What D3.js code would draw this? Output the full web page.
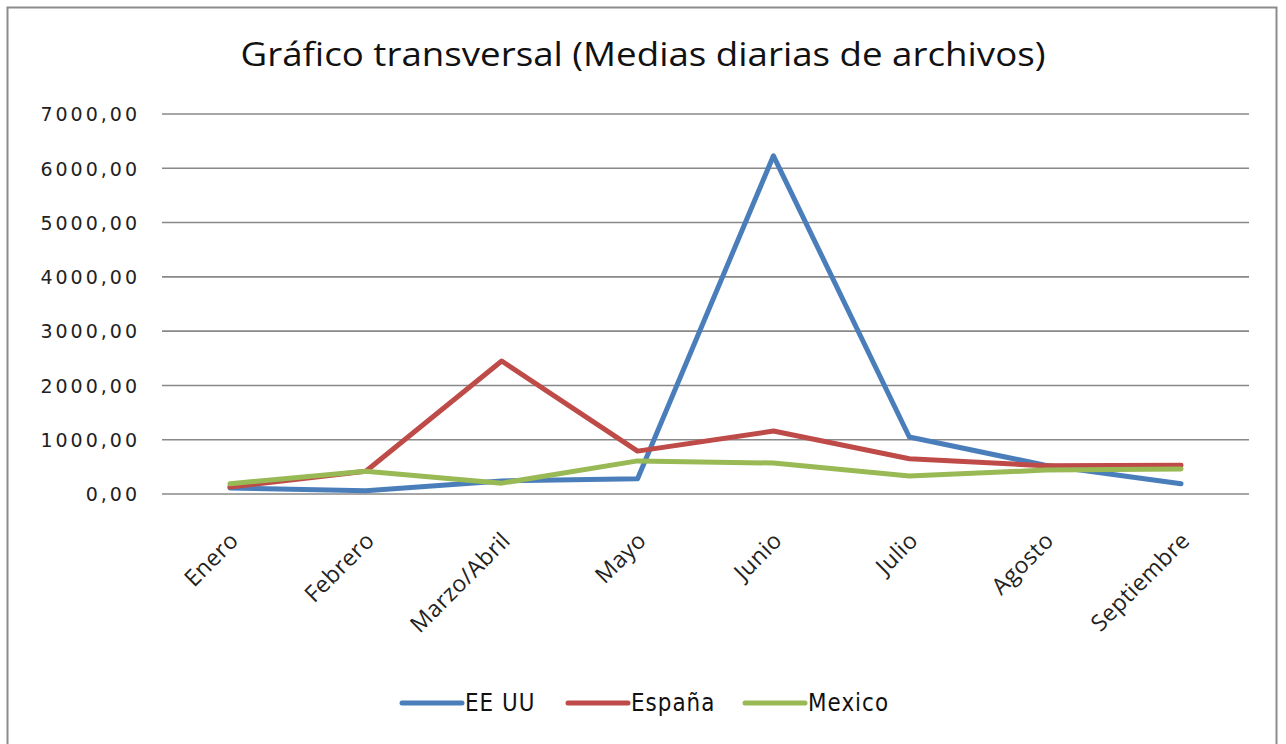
<!DOCTYPE html>
<html><head><meta charset="utf-8">
<script src="https://cdn.jsdelivr.net/npm/d3@7"></script>
<style>body{margin:0;background:#fff}svg{display:block}</style>
</head><body>
<script>
const categories = ["Enero","Febrero","Marzo/Abril","Mayo","Junio","Julio","Agosto","Septiembre"];
const seriesNames = ["EE UU","España","Mexico"];
const eeuu   = [110, 60, 240, 280, 6230, 1050, 530, 190];
const espana = [130, 420, 2450, 790, 1160, 650, 520, 530];
const mexico = [190, 420, 200, 610, 570, 330, 440, 460];
const yTicks = [0,1000,2000,3000,4000,5000,6000,7000];
const colors = ["#4A7EBB","#BE4B48","#98B954"];
const title = "Gráfico transversal (Medias diarias de archivos)";

const W = 1286, H = 744;
const svg = d3.select("body").append("svg").attr("width", W).attr("height", H);
svg.append("rect").attr("x",7.5).attr("y",7.5).attr("width",1269).attr("height",760)
  .attr("fill","#fff").attr("stroke","#8c8c8c").attr("stroke-width",2);

svg.append("text").attr("x",643).attr("y",66).attr("text-anchor","middle")
  .attr("font-family","'Liberation Sans Narrow','Open Sans',sans-serif").attr("font-size",33)
  .attr("textLength",805).attr("lengthAdjust","spacingAndGlyphs")
  .attr("fill","#111").text(title);

const x = d3.scaleBand().domain(categories).range([162,1249]);
const y = d3.scaleLinear().domain([0,7000]).range([494,114]);

const grid = svg.append("g");
grid.selectAll("line").data(yTicks).join("line")
  .attr("x1",162).attr("x2",1249).attr("y1",d=>y(d)).attr("y2",d=>y(d))
  .attr("stroke","#888").attr("stroke-width",1.6);

const fmt = d => d3.format(".2f")(d).replace(".", ",");
const yAxis = svg.append("g").attr("transform","translate(152,0)")
  .call(d3.axisLeft(y).tickValues(yTicks).tickFormat(fmt).tickSize(0).tickPadding(12));
yAxis.select(".domain").remove();
yAxis.selectAll("text").attr("font-family","'DejaVu Sans',sans-serif").attr("font-size",19)
  .attr("letter-spacing",3).attr("fill","#222").attr("dy","0.36em");

const xAxis = svg.append("g").attr("transform","translate(0,494)")
  .call(d3.axisBottom(x).tickSize(0).tickPadding(0));
xAxis.select(".domain").remove();
xAxis.selectAll("text")
  .attr("font-family","'Open Sans',sans-serif").attr("font-size",23).attr("letter-spacing",0.4).attr("fill","#222")
  .attr("text-anchor","end").attr("dy",0)
  .attr("transform","translate(10,48) rotate(-45)");

const data = [eeuu, espana, mexico];
const line = d3.line().x((d,i)=>x(categories[i])+x.bandwidth()/2).y(d=>y(d));
data.forEach((s,k)=>{
  svg.append("path").datum(s).attr("d",line).attr("fill","none")
    .attr("stroke",colors[k]).attr("stroke-width",5).attr("stroke-linejoin","round").attr("stroke-linecap","round");
});

const legX = [402, 568, 745];
const leg = svg.append("g");
seriesNames.forEach((n,k)=>{
  leg.append("line").attr("x1",legX[k]).attr("x2",legX[k]+60).attr("y1",703).attr("y2",703)
    .attr("stroke",colors[k]).attr("stroke-width",5).attr("stroke-linecap","round");
  leg.append("text").attr("transform",`translate(${legX[k]+63},711) scale(1,1.12)`)
    .attr("font-family","'DejaVu Sans',sans-serif")
    .attr("font-size",21.5).attr("letter-spacing",1).attr("fill","#111").text(n);
});
</script>
</body></html>
